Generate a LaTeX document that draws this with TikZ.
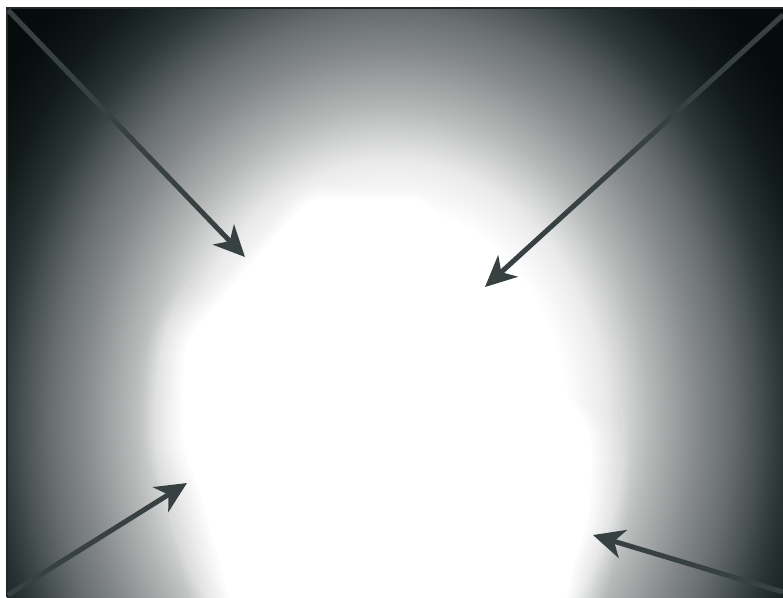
\documentclass[tikz,border=0pt]{standalone}
\usetikzlibrary{arrows.meta}
\definecolor{arrowc}{RGB}{55,65,65}
\definecolor{framec}{RGB}{32,40,40}
\pgfdeclareradialshading{bgshade}{\pgfpoint{0bp}{0bp}}{%
  color(0bp)=(white);
  color(5.5bp)=(white);
  color(6.75bp)=(rgb,255:red,234;green,234;blue,234);
  color(8.125bp)=(rgb,255:red,182;green,184;blue,184);
  color(9.625bp)=(rgb,255:red,132;green,136;blue,136);
  color(10.625bp)=(rgb,255:red,104;green,110;blue,110);
  color(12.25bp)=(rgb,255:red,44;green,54;blue,54);
  color(13.5bp)=(rgb,255:red,18;green,26;blue,26);
  color(15bp)=(rgb,255:red,6;green,11;blue,11);
  color(25bp)=(rgb,255:red,4;green,9;blue,9);
  color(50bp)=(rgb,255:red,4;green,9;blue,9)}
\newcommand\blobpath{(-83,-210) -- (37,-210) -- (93,-113) -- (120,-83) -- (203,20) -- (210,47) -- (207,120) -- (190,170) -- (177,240) -- (-157,240) -- (-197,95) -- (-217,43) -- (-213,-60) -- (-147,-138) -- cycle}
\tikzset{
  inarrow/.style={draw=arrowc,line width=5pt,-{Stealth[length=31pt,width=29pt,inset=9pt]}},
  glow/.style={draw=white,line join=round,rounded corners=18pt}
}
\begin{document}
\begin{tikzpicture}[x=1pt,y=-1pt]
\useasboundingbox (0,0) rectangle (783,597);
\fill[white] (0,0) rectangle (783,597);
\begin{scope}
\clip (7,7) rectangle (783,597);
\shade[shading=bgshade] (390,420) ellipse [x radius=800, y radius=960];
\begin{scope}[shift={(390,400)}]
 \begin{scope}[scale=0.96]
  \foreach \w in {80,78,...,2}{
    \pgfmathsetmacro\al{2/\w}
    \draw[glow,line width=\w pt,draw opacity=\al] \blobpath;
  }
  \fill[white,rounded corners=18pt] \blobpath;
 \end{scope}
\end{scope}
\end{scope}
\draw[framec,line width=2pt] (7,597) -- (7,8) -- (783,8);
% arrows
\coordinate (a1s) at (8,10);
\coordinate (a1e) at (245,257);
\coordinate (a2s) at (783,15);
\coordinate (a2e) at (485,287);
\coordinate (a3s) at (8,595);
\coordinate (a3e) at (187,483);
\coordinate (a4s) at (783,592);
\coordinate (a4e) at (593,535);
\draw[inarrow] (a1s) -- (a1e);
\draw[inarrow] (a2s) -- (a2e);
\draw[inarrow] (a3s) -- (a3e);
\draw[inarrow] (a4s) -- (a4e);
\end{tikzpicture}
\end{document}
